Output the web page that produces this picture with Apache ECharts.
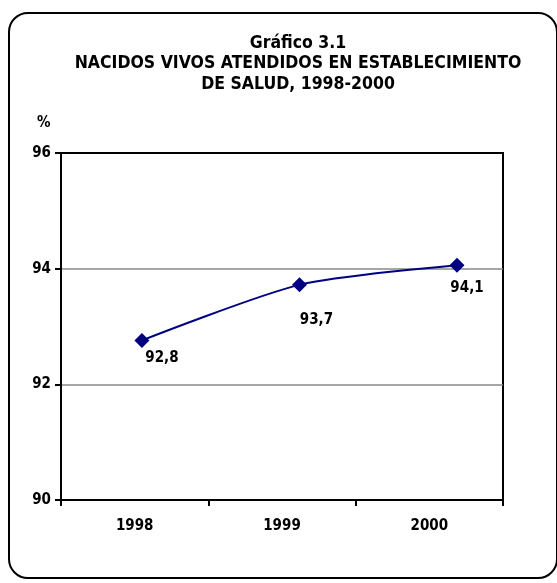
<!DOCTYPE html>
<html>
<head>
<meta charset="utf-8">
<script src="https://cdn.jsdelivr.net/npm/echarts@6/dist/echarts.min.js"></script>
<style>
  html, body { margin: 0; padding: 0; background: #fff; }
  #frame {
    position: absolute; left: 8px; top: 12px; width: 546px; height: 563px;
    border: 2px solid #000; border-radius: 20px;
  }
  #chart { position: absolute; left: 0; top: 0; width: 557px; height: 583px; }
</style>
</head>
<body>
<div id="frame"></div>
<div id="chart"></div>
<script>
var years = ['1998', '1999', '2000'];
var yearValues = [1998, 1999, 2000];
var porcentaje = [92.76, 93.72, 94.06];
var yTicks = [90, 92, 94, 96];

var font = "'Liberation Sans Narrow', 'Arial Narrow', 'DejaVu Sans Condensed', sans-serif";
var labelOffsets = [[20, 18], [17, 35], [10, 23]];

var myChart = echarts.init(document.getElementById('chart'));

var option = {
    backgroundColor: 'transparent',
    animation: false,
    title: {
        text: 'Gráfico 3.1\nNACIDOS VIVOS ATENDIDOS EN ESTABLECIMIENTO\nDE SALUD, 1998-2000',
        left: 293,
        top: 28,
        textAlign: 'center',
        textStyle: {
            fontFamily: font,
            fontSize: 17.5,
            fontWeight: 'bold',
            color: '#000',
            lineHeight: 20.5
        }
    },
    graphic: [{
        type: 'text',
        left: 37,
        top: 116,
        style: { text: '%', font: 'bold 15px ' + font, fill: '#000' }
    }],
    grid: {
        left: 61, right: 54, top: 153, bottom: 83,
        show: true,
        borderColor: '#000',
        borderWidth: 2
    },
    xAxis: [{
        type: 'category',
        data: years,
        boundaryGap: true,
        axisLine: { lineStyle: { color: '#000', width: 2 } },
        axisTick: { show: true, length: 6, lineStyle: { color: '#000', width: 2 } },
        axisLabel: { margin: 19, fontFamily: font, fontSize: 15, fontWeight: 'bold', color: '#000' }
    }, {
        type: 'value',
        min: 1997.486,
        max: 2000.292,
        show: false,
        position: 'bottom'
    }],
    yAxis: {
        type: 'value',
        min: yTicks[0],
        max: yTicks[yTicks.length - 1],
        interval: 2,
        axisLine: { show: true, lineStyle: { color: '#000', width: 2 } },
        axisTick: { show: true, length: 6, lineStyle: { color: '#000', width: 2 } },
        splitLine: { show: true, lineStyle: { color: ['#000', '#888', '#888', '#000'], width: 1.5 } },
        axisLabel: { margin: 10, fontFamily: font, fontSize: 15, fontWeight: 'bold', color: '#000' }
    },
    series: [{
        type: 'line',
        xAxisIndex: 1,
        smooth: 0.25,
        symbol: 'diamond',
        symbolSize: 15,
        lineStyle: { color: '#000080', width: 2 },
        itemStyle: { color: '#000080' },
        label: {
            show: true,
            fontFamily: font,
            fontSize: 15,
            fontWeight: 'bold',
            color: '#000',
            formatter: function (p) { return p.value[1].toFixed(1).replace('.', ','); }
        },
        data: porcentaje.map(function (v, i) {
            return {
                value: [yearValues[i], v],
                label: { position: 'inside', offset: labelOffsets[i] }
            };
        })
    }]
};

myChart.setOption(option);
window.addEventListener('resize', function () {
    myChart.resize();
});
</script>
</body>
</html>
